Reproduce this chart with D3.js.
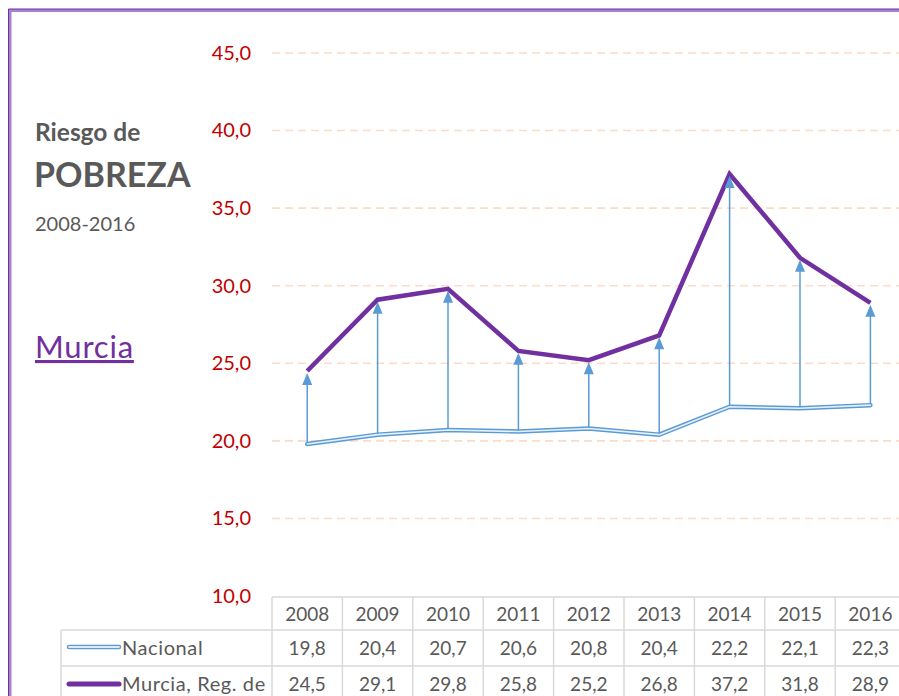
<!DOCTYPE html>
<html>
<head>
<meta charset="utf-8">
<script src="https://cdn.jsdelivr.net/npm/d3@7/dist/d3.min.js"></script>
<style>
  html, body { margin: 0; padding: 0; background: #ffffff; }
  svg { display: block; }
  text { font-family: Lato, "Open Sans", "Liberation Sans", sans-serif; }
</style>
</head>
<body>
<script>
const years = ["2008","2009","2010","2011","2012","2013","2014","2015","2016"];
const nacional = [19.8, 20.4, 20.7, 20.6, 20.8, 20.4, 22.2, 22.1, 22.3];
const murcia = [24.5, 29.1, 29.8, 25.8, 25.2, 26.8, 37.2, 31.8, 28.9];
const yTicks = [10, 15, 20, 25, 30, 35, 40, 45];
const seriesNames = ["Nacional", "Murcia, Reg. de"];

const W = 899, H = 696;
const svg = d3.select("body").append("svg").attr("width", W).attr("height", H);

// frame
svg.append("rect").attr("x", 10).attr("y", 10.5).attr("width", W + 20).attr("height", H + 20)
  .attr("fill", "none").attr("stroke", "#a583cf").attr("stroke-width", 3);
svg.append("line").attr("x1", 8.5).attr("x2", W).attr("y1", 9).attr("y2", 9).attr("stroke", "#7030a0").attr("stroke-width", 1);
svg.append("line").attr("x1", 8.5).attr("x2", 8.5).attr("y1", 9).attr("y2", H).attr("stroke", "#7030a0").attr("stroke-width", 1);

const x = d3.scaleBand().domain(years).range([272, 272 + 9 * 70.4]).padding(0);
const y = d3.scaleLinear().domain([10, 45]).range([596, 53]);
const cx = d => x(d) + x.bandwidth() / 2;

// gridlines
svg.append("g").selectAll("line").data(yTicks.filter(t => t > 10)).join("line")
  .attr("x1", 272).attr("x2", W).attr("y1", d => y(d)).attr("y2", d => y(d))
  .attr("stroke", "#fcdcc8").attr("stroke-width", 1.6).attr("stroke-dasharray", "8,5");

// y axis labels
const fmt = v => d3.format(".1f")(v).replace(".", ",");
const yAxis = d3.axisLeft(y).tickValues(yTicks).tickFormat(fmt).tickSize(0).tickPadding(0);
const gy = svg.append("g").attr("transform", "translate(251,0)").call(yAxis);
gy.select(".domain").remove();
gy.selectAll("text").attr("fill", "#c00000").style("font-size", "20px")
  .style("font-family", "Lato, 'Open Sans', sans-serif");

// table
const tbl = svg.append("g");
const colEdges = years.map(d => x(d)).concat([x(years[years.length - 1]) + x.bandwidth()]);
const gray = "#d9d9d9";
tbl.append("line").attr("x1", 272).attr("x2", W).attr("y1", 597).attr("y2", 597).attr("stroke", gray).attr("stroke-width", 1.5);
tbl.append("line").attr("x1", 61).attr("x2", W).attr("y1", 630).attr("y2", 630).attr("stroke", gray).attr("stroke-width", 1.5);
tbl.append("line").attr("x1", 61).attr("x2", W).attr("y1", 666).attr("y2", 666).attr("stroke", gray).attr("stroke-width", 1.5);
tbl.selectAll("line.v").data(colEdges).join("line").attr("class", "v")
  .attr("x1", d => d).attr("x2", d => d).attr("y1", 597).attr("y2", H)
  .attr("stroke", gray).attr("stroke-width", 1.5);
tbl.append("line").attr("x1", 61).attr("x2", 61).attr("y1", 630).attr("y2", H).attr("stroke", gray).attr("stroke-width", 1.5);

const txtColor = "#595959";
const numSize = "19px";
tbl.selectAll("text.yr").data(years).join("text").attr("class", "yr")
  .attr("x", d => cx(d)).attr("y", 614).attr("dy", "0.35em").attr("text-anchor", "middle")
  .attr("fill", txtColor).style("font-size", numSize).text(d => d);
tbl.selectAll("text.n").data(nacional).join("text").attr("class", "n")
  .attr("x", (d, i) => cx(years[i])).attr("y", 648).attr("dy", "0.35em").attr("text-anchor", "middle")
  .attr("fill", txtColor).style("font-size", numSize).text(d => fmt(d));
tbl.selectAll("text.m").data(murcia).join("text").attr("class", "m")
  .attr("x", (d, i) => cx(years[i])).attr("y", 684).attr("dy", "0.35em").attr("text-anchor", "middle")
  .attr("fill", txtColor).style("font-size", numSize).text(d => fmt(d));

// legend keys
tbl.append("line").attr("x1", 69).attr("x2", 119).attr("y1", 647).attr("y2", 647)
  .attr("stroke", "#5b9bd5").attr("stroke-width", 4.5).attr("stroke-linecap", "round");
tbl.append("line").attr("x1", 69).attr("x2", 119).attr("y1", 647).attr("y2", 647)
  .attr("stroke", "#deebf7").attr("stroke-width", 1.8).attr("stroke-linecap", "round");
tbl.append("line").attr("x1", 69).attr("x2", 119).attr("y1", 684).attr("y2", 684)
  .attr("stroke", "#7030a0").attr("stroke-width", 5).attr("stroke-linecap", "round");
tbl.append("text").attr("x", 122).attr("y", 648).attr("dy", "0.35em").attr("fill", txtColor)
  .style("font-size", "20px").style("letter-spacing", "0.6px").text(seriesNames[0]);
tbl.append("text").attr("x", 122).attr("y", 684).attr("dy", "0.35em").attr("fill", txtColor)
  .style("font-size", "20px").style("letter-spacing", "0.6px").text(seriesNames[1]);

// Nacional double line
const line = d3.line().x((d, i) => cx(years[i])).y(d => y(d));
svg.append("path").datum(nacional).attr("d", line).attr("fill", "none")
  .attr("stroke", "#5b9bd5").attr("stroke-width", 4.5).attr("stroke-linecap", "round").attr("stroke-linejoin", "round");
svg.append("path").datum(nacional).attr("d", line).attr("fill", "none")
  .attr("stroke", "#e6f0fa").attr("stroke-width", 1.6).attr("stroke-linecap", "round").attr("stroke-linejoin", "round");

// Murcia line
svg.append("path").datum(murcia).attr("d", line).attr("fill", "none")
  .attr("stroke", "#7030a0").attr("stroke-width", 4.5).attr("stroke-linejoin", "miter");

// arrows
const arrows = svg.append("g");
years.forEach((yr, i) => {
  const xx = cx(yr);
  const y0 = y(nacional[i]) - 1, y1 = y(murcia[i]) + 2;
  arrows.append("line").attr("x1", xx).attr("x2", xx).attr("y1", y0).attr("y2", y1 + 8)
    .attr("stroke", "#5b9bd5").attr("stroke-width", 1.5);
  arrows.append("path").attr("d", `M${xx},${y1} L${xx - 5},${y1 + 12} L${xx + 5},${y1 + 12} Z`)
    .attr("fill", "#5b9bd5");
});

// titles
svg.append("text").attr("x", 35).attr("y", 141).attr("fill", "#595959")
  .style("font-size", "24.5px").style("font-weight", "bold").text("Riesgo de");
svg.append("text").attr("x", 34).attr("y", 187).attr("fill", "#595959")
  .style("font-size", "34px").style("font-weight", "bold").text("POBREZA");
svg.append("text").attr("x", 35).attr("y", 231).attr("fill", "#595959")
  .style("font-size", "20px").text("2008-2016");
svg.append("text").attr("x", 35).attr("y", 358).attr("fill", "#7030a0")
  .style("font-size", "31px").style("letter-spacing", "0.8px").style("text-decoration", "underline").text("Murcia");
</script>
</body>
</html>
